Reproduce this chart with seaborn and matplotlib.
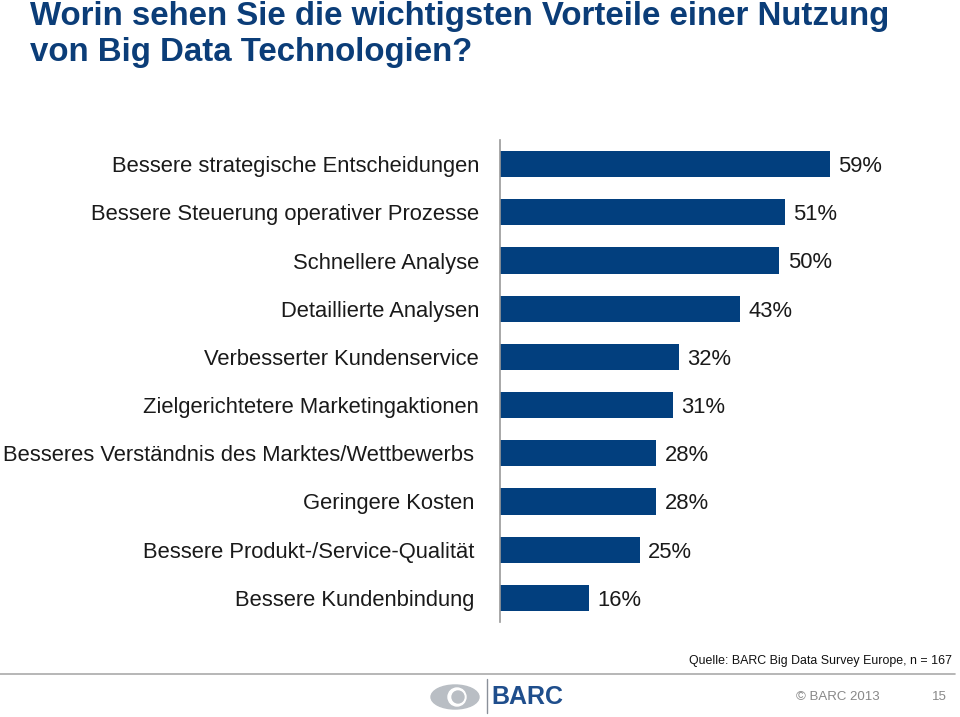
import matplotlib
matplotlib.use("Agg")
import matplotlib.pyplot as plt
import matplotlib.transforms as mtransforms
import seaborn as sns
import pandas as pd
from matplotlib.patches import Ellipse, Circle

categories = [
    "Bessere strategische Entscheidungen",
    "Bessere Steuerung operativer Prozesse",
    "Schnellere Analyse",
    "Detaillierte Analysen",
    "Verbesserter Kundenservice",
    "Zielgerichtetere Marketingaktionen",
    "Besseres Verständnis des Marktes/Wettbewerbs",
    "Geringere Kosten",
    "Bessere Produkt-/Service-Qualität",
    "Bessere Kundenbindung",
]
values = [59, 51, 50, 43, 32, 31, 28, 28, 25, 16]
value_labels = ["59%", "51%", "50%", "43%", "32%", "31%", "28%", "28%", "25%", "16%"]
title = "Worin sehen Sie die wichtigsten Vorteile einer Nutzung\nvon Big Data Technologien?"
source = "Quelle: BARC Big Data Survey Europe, n = 167"

sns.set_theme(style="white")
plt.rcParams["font.family"] = ["Liberation Sans", "DejaVu Sans"]

BLUE = "#023f7e"
df = pd.DataFrame({"cat": categories, "val": values})

fig = plt.figure(figsize=(9.6, 7.17), dpi=100)
ax = fig.add_axes([500 / 960, 1 - 622 / 717, 447 / 960, 482 / 717])
sns.barplot(data=df, y="cat", x="val", orient="h", color=BLUE, width=0.54,
            saturation=1, ax=ax, edgecolor="none")
ax.set_xlim(0, 80)
ax.set_ylim(9.5, -0.5)
ax.set_xlabel("")
ax.set_ylabel("")
ax.set_xticks([])
for s in ["top", "right", "bottom"]:
    ax.spines[s].set_visible(False)
ax.spines["left"].set_color("#999999")
ax.spines["left"].set_linewidth(1.2)
ax.tick_params(axis="y", length=0, pad=15, labelsize=15.8, labelcolor="#1a1a1a")

# the lower four labels sit slightly further left in the original
shift = mtransforms.ScaledTranslation(-5 / 100, 0, fig.dpi_scale_trans)
for lab in ax.get_yticklabels()[6:]:
    lab.set_transform(lab.get_transform() + shift)

for i, (v, lab) in enumerate(zip(values, value_labels)):
    ax.text(v + 1.5, i + 0.05, lab, va="center", ha="left", fontsize=15.8, color="#1a1a1a")

fig.text(30 / 960, 1 - 1 / 717, title, ha="left", va="top", fontsize=23.8,
         fontweight="bold", color="#0b3d78", linespacing=1.2)

fig.text(952 / 960, 1 - 661 / 717, source, ha="right", va="center", fontsize=8.9,
         color="#111111")
fig.add_artist(plt.Line2D([0, 955 / 960], [1 - 674 / 717, 1 - 674 / 717],
                          transform=fig.transFigure, color="#aaaaaa", lw=1.2))
fig.text(880 / 960, 1 - 697 / 717, "© BARC 2013", ha="right", va="center",
         fontsize=9.5, color="#888888")
fig.text(947 / 960, 1 - 697 / 717, "15", ha="right", va="center",
         fontsize=9.5, color="#888888")

# logo
lax = fig.add_axes([425 / 960, 1 - 717 / 717, 140 / 960, 40 / 717])
lax.set_xlim(0, 140)
lax.set_ylim(0, 40)
lax.axis("off")
lax.add_patch(Ellipse((30, 20), 48, 24, color="#b9bec4"))
lax.add_patch(Circle((32, 20), 9, color="white"))
lax.add_patch(Circle((33, 20), 6, color="#b9bec4"))
lax.plot([62, 62], [4, 38], color="#8a9099", lw=1)
lax.text(66, 20, "BARC", ha="left", va="center", fontsize=18, fontweight="bold",
         color="#1f4e8c")

fig.savefig("out.png", dpi=100)
